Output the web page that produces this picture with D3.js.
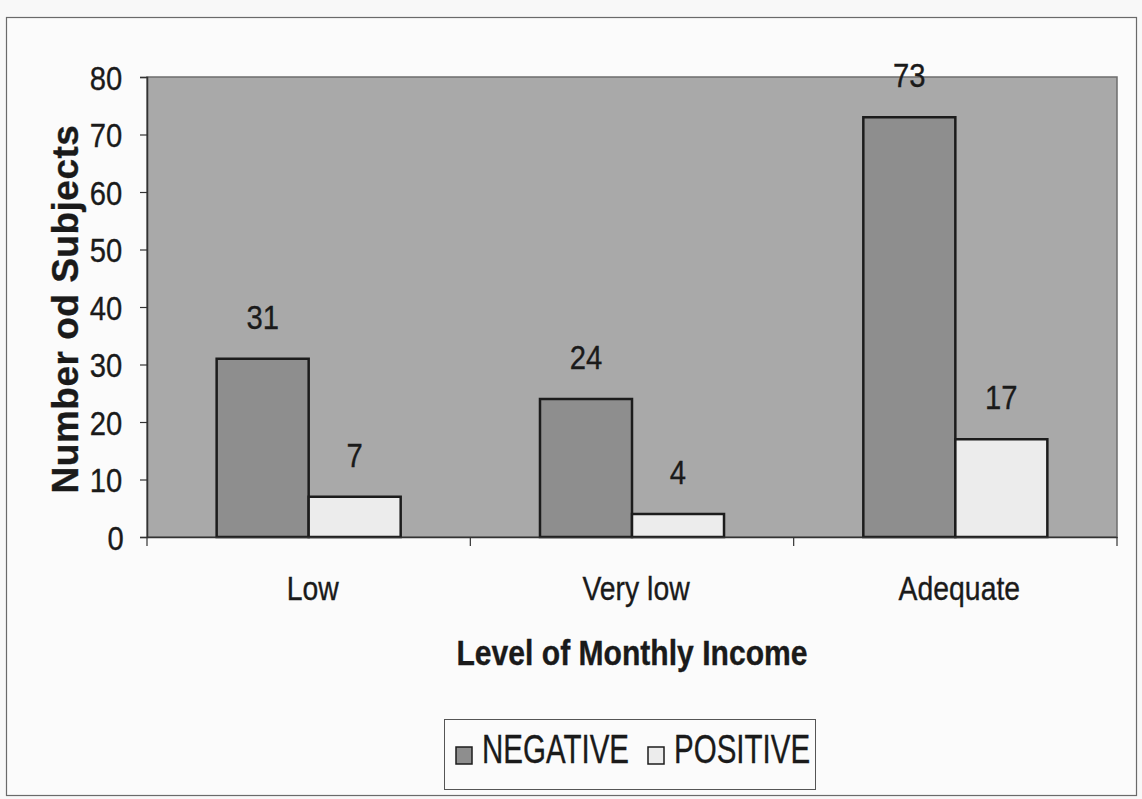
<!DOCTYPE html>
<html>
<head>
<meta charset="utf-8">
<script src="https://cdn.jsdelivr.net/npm/d3@7/dist/d3.min.js"></script>
<style>
  html, body { margin: 0; padding: 0; background: #f8f8f8; }
  svg { display: block; }
  text { font-family: "Liberation Sans", Arial, sans-serif; fill: #1a1a1a; stroke: #1a1a1a; stroke-width: 0.35px; }
  .sx { transform-box: fill-box; transform-origin: 50% 50%; transform: scaleX(0.86); }
  .sxl { transform-box: fill-box; transform-origin: 0 50%; transform: scaleX(0.72); }
</style>
</head>
<body>
<svg id="chart" width="1142" height="799"></svg>
<script>
// Subjects by level of monthly income and serostatus
const categories = ["Low", "Very low", "Adequate"];
const seriesNames = ["NEGATIVE", "POSITIVE"];
const negativeValues = [31, 24, 73];
const positiveValues = [7, 4, 17];
const yTicks = [0, 10, 20, 30, 40, 50, 60, 70, 80];

const seriesValues = { NEGATIVE: negativeValues, POSITIVE: positiveValues };
const seriesFill = { NEGATIVE: "#8e8e8e", POSITIVE: "#ececec" };

const svg = d3.select("#chart");

// outer chart frame
svg.append("rect")
  .attr("x", 6.5).attr("y", 17.5).attr("width", 1130).attr("height", 778)
  .attr("fill", "#fbfbfb").attr("stroke", "#6a6a6a").attr("stroke-width", 1.2);

const plot = { left: 147, right: 1117, top: 77, bottom: 537 };

const x0 = d3.scaleBand().domain(categories).range([plot.left, plot.right]).padding(0);
const x1 = d3.scaleBand().domain(seriesNames).range([0, x0.bandwidth()])
  .paddingInner(0).paddingOuter(0.757);
const y = d3.scaleLinear().domain([0, 80]).range([plot.bottom, plot.top]);

// plot area background
svg.append("rect")
  .attr("x", plot.left).attr("y", plot.top)
  .attr("width", plot.right - plot.left).attr("height", plot.bottom - plot.top)
  .attr("fill", "#a9a9a9").attr("stroke", "#6e6e6e").attr("stroke-width", 1.5);

// bars
const groups = svg.append("g").selectAll("g")
  .data(categories)
  .join("g")
  .attr("transform", d => `translate(${x0(d)},0)`);

groups.selectAll("rect")
  .data((c, i) => seriesNames.map(s => ({ s, v: seriesValues[s][i] })))
  .join("rect")
  .attr("x", d => x1(d.s))
  .attr("y", d => y(d.v))
  .attr("width", x1.bandwidth())
  .attr("height", d => y(0) - y(d.v))
  .attr("fill", d => seriesFill[d.s])
  .attr("stroke", "#1c1c1c").attr("stroke-width", 2.5);

// value labels
groups.selectAll("text.val")
  .data((c, i) => seriesNames.map(s => ({ s, v: seriesValues[s][i] })))
  .join("text")
  .attr("class", "val sx")
  .attr("x", d => x1(d.s) + x1.bandwidth() / 2)
  .attr("y", d => y(d.v) - 30)
  .attr("text-anchor", "middle")
  .style("font-size", "34px")
  .text(d => d.v);

// y axis
const yAxis = svg.append("g")
  .attr("transform", `translate(${plot.left},0)`)
  .call(d3.axisLeft(y).tickValues(yTicks).tickSize(7).tickPadding(15));
yAxis.select(".domain").attr("stroke", "#333").attr("stroke-width", 1.5);
yAxis.selectAll(".tick line").attr("stroke", "#333").attr("stroke-width", 1.2);
yAxis.selectAll(".tick text")
  .attr("class", "sx")
  .attr("dy", "0.36em")
  .style("font-size", "34px").style("fill", "#1a1a1a");

// x axis
const xAxis = svg.append("g")
  .attr("transform", `translate(0,${plot.bottom})`)
  .call(d3.axisBottom(x0).tickSize(0).tickPadding(0));
xAxis.select(".domain").attr("stroke", "#333").attr("stroke-width", 1.5);
xAxis.selectAll(".tick text")
  .attr("class", "sx")
  .attr("x", 4)
  .attr("y", 63).attr("dy", 0)
  .style("font-size", "33px").style("fill", "#1a1a1a");

// category boundary ticks
const boundaries = categories.map(d => x0(d)).concat([plot.right]);
svg.append("g").selectAll("line")
  .data(boundaries)
  .join("line")
  .attr("x1", d => d).attr("x2", d => d)
  .attr("y1", plot.bottom).attr("y2", plot.bottom + 9)
  .attr("stroke", "#333").attr("stroke-width", 1.2);

// axis titles
svg.append("text")
  .attr("class", "sx")
  .attr("x", (plot.left + plot.right) / 2)
  .attr("y", 665)
  .attr("text-anchor", "middle")
  .style("font-size", "35px").style("font-weight", "bold")
  .text("Level of Monthly Income");

svg.append("text")
  .attr("transform", `translate(78,${(plot.top + plot.bottom) / 2 + 2}) rotate(-90)`)
  .attr("text-anchor", "middle")
  .style("font-size", "37px").style("font-weight", "bold")
  .style("letter-spacing", "0.5px")
  .text("Number od Subjects");

// legend
const legend = svg.append("g");
legend.append("rect")
  .attr("x", 444.5).attr("y", 719.5).attr("width", 371).attr("height", 70)
  .attr("fill", "#fbfbfb").attr("stroke", "#555").attr("stroke-width", 1);

const legendX = { NEGATIVE: 456, POSITIVE: 648 };
const legendItems = legend.selectAll("g")
  .data(seriesNames)
  .join("g");
legendItems.append("rect")
  .attr("x", d => legendX[d]).attr("y", 747)
  .attr("width", 16).attr("height", 17)
  .attr("fill", d => seriesFill[d])
  .attr("stroke", "#1c1c1c").attr("stroke-width", 1.5);
legendItems.append("text")
  .attr("class", "sxl")
  .attr("x", d => legendX[d] + 26)
  .attr("y", 763)
  .style("font-size", "41px")
  .text(d => d);
</script>
</body>
</html>
